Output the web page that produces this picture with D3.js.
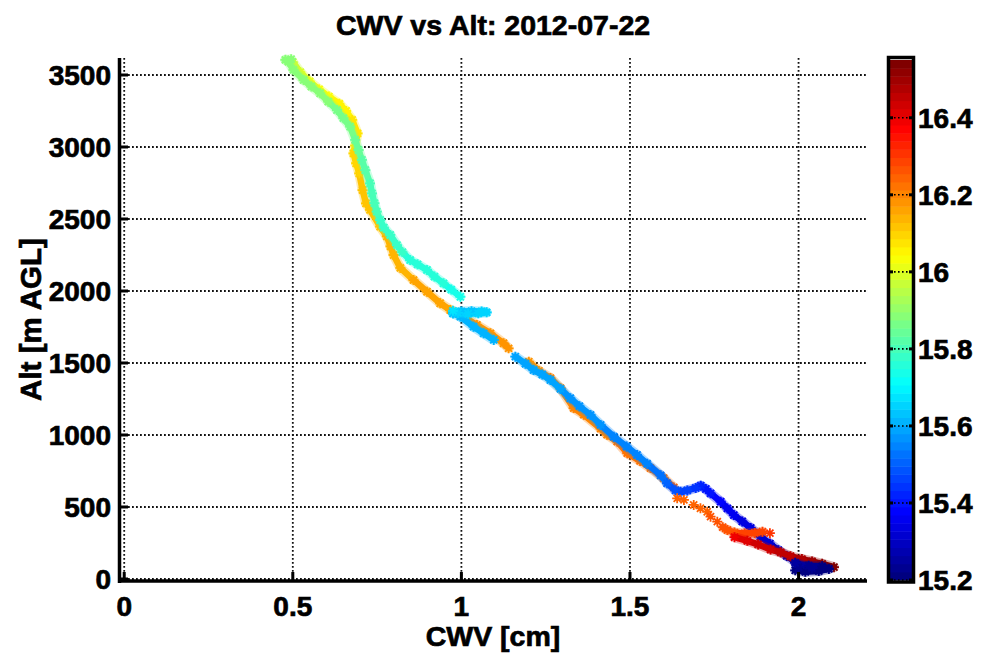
<!DOCTYPE html>
<html>
<head>
<meta charset="utf-8">
<script src="https://cdn.jsdelivr.net/npm/d3@7"></script>
<style>
body { margin: 0; background: #fff; }
svg text { font-family: "Liberation Sans", Arial, sans-serif; font-weight: bold; fill: #000;
           stroke: #000; stroke-width: 0.7px; }
</style>
</head>
<body>
<div id="plotDiv"></div>
<script>
//--------------------------------------------------------------------------------
// flight legs, one point is [cwv (cm), altitude (m AGL), time (hr)]
var groundHold = [[1.99,60,15.20],[2.02,50,15.205],[2.06,55,15.21],[2.09,70,15.215],
   [2.07,88,15.22],[2.03,92,15.225],[2.00,82,15.23],[1.995,100,15.235],[2.04,75,15.24],[1.99,112,15.245]];

var climbLow = [[1.99,120,15.26],[1.965,160,15.28],[1.94,200,15.30],[1.915,245,15.31],
   [1.887,294,15.32],[1.858,354,15.33],[1.833,400,15.34],[1.808,444,15.35],[1.789,490,15.36],
   [1.769,537,15.37],[1.739,595,15.39],[1.725,625,15.41],[1.710,648,15.42],[1.695,632,15.44],
   [1.670,615,15.46],[1.650,606,15.47],[1.635,615,15.48],[1.610,665,15.51],[1.591,720,15.53],
   [1.551,800,15.54],[1.521,861,15.545],[1.490,920,15.55],[1.452,988,15.555],[1.413,1070,15.56],
   [1.383,1139,15.565],[1.350,1200,15.57],[1.323,1255,15.575],[1.294,1320,15.58],[1.264,1382,15.585],
   [1.240,1420,15.59],[1.214,1451,15.59],[1.190,1495,15.595],[1.160,1544,15.60]];

var climbMid = [[1.096,1660,15.61],[1.066,1706,15.61],[1.036,1752,15.615],[0.997,1822,15.62],
   [0.975,1845,15.625]];

var levelLeg = [[0.975,1845,15.63],[1.00,1858,15.635],[1.03,1860,15.64],[1.06,1858,15.645],
   [1.075,1852,15.65],[1.05,1845,15.655],[1.02,1842,15.66],[0.99,1848,15.66],[0.975,1862,15.665]];

var climbHigh = [[0.997,1960,15.74],[0.970,2010,15.745],[0.947,2053,15.75],[0.920,2100,15.755],
   [0.898,2146,15.76],[0.870,2185,15.76],[0.848,2215,15.765],[0.825,2270,15.77],[0.809,2319,15.775],
   [0.789,2389,15.78],[0.770,2440,15.785],[0.759,2493,15.79],[0.749,2551,15.795],[0.742,2610,15.80],
   [0.735,2678,15.805],[0.729,2748,15.81],[0.715,2840,15.82],[0.705,2910,15.83],[0.695,2979,15.84],
   [0.685,3049,15.85],[0.670,3141,15.86],[0.650,3200,15.865],[0.631,3257,15.87],[0.605,3315,15.875],
   [0.581,3373,15.88],[0.555,3420,15.88],[0.532,3465,15.885],[0.502,3535,15.885],[0.487,3592,15.89],
   [0.478,3605,15.89],[0.495,3610,15.895]];

var descentHigh = [[0.500,3590,15.97],[0.522,3520,15.99],[0.550,3455,16.01],[0.578,3400,16.03],
   [0.607,3350,16.04],[0.638,3300,16.05],[0.658,3250,16.06],[0.676,3188,16.065],[0.692,3095,16.07],
   [0.685,3010,16.08],[0.680,2956,16.09],[0.688,2887,16.10],[0.697,2817,16.105],[0.707,2701,16.11],
   [0.717,2609,16.115],[0.729,2563,16.12],[0.759,2447,16.125],[0.779,2380,16.13],[0.790,2310,16.135],
   [0.799,2250,16.14],[0.819,2160,16.145],[0.858,2076,16.15],[0.898,1995,16.155],[0.937,1915,16.16],
   [0.967,1868,16.165],[1.000,1830,16.17],[1.046,1764,16.175],[1.086,1706,16.18],[1.125,1637,16.185],
   [1.140,1602,16.19]];

var descentMid = [[1.200,1509,16.19],[1.230,1445,16.19],[1.264,1395,16.195],[1.294,1325,16.20],
   [1.333,1187,16.20],[1.363,1141,16.205],[1.413,1045,16.21],[1.432,1002,16.21],[1.462,955,16.215],
   [1.492,874,16.22],[1.530,820,16.22],[1.561,770,16.225],[1.600,700,16.23],[1.630,636,16.235]];

var descentSparse = [[1.640,560,16.24],[1.660,549,16.24],[1.689,514,16.245],[1.709,491,16.25],
   [1.729,467,16.25],[1.739,433,16.255],[1.759,398,16.26],[1.915,318,16.30]];

var descentLow = [[1.775,360,16.265],[1.789,340,16.27],[1.810,322,16.275],[1.840,316,16.28],
   [1.870,320,16.285],[1.893,328,16.29]];

var descentFinal = [[1.810,290,16.40],[1.848,265,16.42],[1.880,240,16.43],[1.917,205,16.44],
   [1.947,185,16.45],[1.976,158,16.46],[2.010,138,16.48],[2.040,122,16.50],[2.070,105,16.52],
   [2.105,82,16.54]];

// order of drawing: upper descent sits under the climb bands, the low red legs on top,
// the ground hold blob last
var legs = [descentHigh, descentMid, climbLow, climbMid, levelLeg, climbHigh,
            descentSparse, descentLow, descentFinal, groundHold];
var markersOnly = [descentSparse];

var xTicks = [0, 0.5, 1, 1.5, 2];
var xTickLabels = ["0", "0.5", "1", "1.5", "2"];
var yTicks = [0, 500, 1000, 1500, 2000, 2500, 3000, 3500];
var cbarTicks = [15.2, 15.4, 15.6, 15.8, 16, 16.2, 16.4];
var cbarTickLabels = ["15.2", "15.4", "15.6", "15.8", "16", "16.2", "16.4"];
var timeRange = [15.2, 16.55];

var titleText = "CWV vs Alt: 2012-07-22";
var xLabelText = "CWV [cm]";
var yLabelText = "Alt [m AGL]";

//--------------------------------------------------------------------------------
var svgWidth = 988, svgHeight = 656;
var plotLeft = 120, plotRight = 866, plotTop = 58, plotBottom = 581;

var xScale = d3.scaleLinear().domain([-0.0125, 2.2]).range([plotLeft, plotRight]);
var yScale = d3.scaleLinear().domain([-14, 3618]).range([plotBottom, plotTop]);
var cScale = d3.scaleLinear().domain(timeRange).range([580, 60]);

// matlab style jet(64), quantized
function jet(hr) {
   var t = (hr - timeRange[0]) / (timeRange[1] - timeRange[0]);
   var i = Math.min(63, Math.max(0, Math.floor(t * 64)));
   var u = i / 63;
   var cl = function(v){ return Math.max(0, Math.min(1, v)); };
   return d3.rgb(255 * cl(1.5 - Math.abs(4*u - 3)),
                 255 * cl(1.5 - Math.abs(4*u - 2)),
                 255 * cl(1.5 - Math.abs(4*u - 1))).toString();
}

function asterisk(r) {
   var a = r * 0.7071;
   return "M" + (-r) + ",0H" + r + "M0," + (-r) + "V" + r +
          "M" + (-a) + "," + (-a) + "L" + a + "," + a +
          "M" + (-a) + "," + a + "L" + a + "," + (-a);
}

var svg = d3.select("#plotDiv").append("svg")
   .attr("width", svgWidth).attr("height", svgHeight);

//--------------------------------------------------------------------------------
// dotted grid
var grid = svg.append("g")
   .attr("stroke", "#111").attr("stroke-width", 1.8).attr("stroke-dasharray", "1.8,2.2");

grid.selectAll("line.gx").data(xTicks).enter().append("line")
   .attr("x1", function(d){ return xScale(d); }).attr("x2", function(d){ return xScale(d); })
   .attr("y1", plotTop).attr("y2", plotBottom);

grid.selectAll("line.gy").data(yTicks).enter().append("line")
   .attr("y1", function(d){ return yScale(d); }).attr("y2", function(d){ return yScale(d); })
   .attr("x1", plotLeft).attr("x2", plotRight);

//--------------------------------------------------------------------------------
// flight track: thick segments + asterisk markers
var plot = svg.append("g");

legs.forEach(function(leg) {
   var connected = markersOnly.indexOf(leg) < 0;
   if (connected) {
      var segs = d3.pairs(leg);
      plot.append("g").selectAll("line").data(segs).enter().append("line")
         .attr("x1", function(d){ return xScale(d[0][0]); })
         .attr("y1", function(d){ return yScale(d[0][1]); })
         .attr("x2", function(d){ return xScale(d[1][0]); })
         .attr("y2", function(d){ return yScale(d[1][1]); })
         .attr("stroke", function(d){ return jet((d[0][2] + d[1][2]) / 2); })
         .attr("stroke-opacity", 0.3)
         .attr("stroke-width", 10)
         .attr("stroke-linecap", "round");
      plot.append("g").selectAll("line").data(segs).enter().append("line")
         .attr("x1", function(d){ return xScale(d[0][0]); })
         .attr("y1", function(d){ return yScale(d[0][1]); })
         .attr("x2", function(d){ return xScale(d[1][0]); })
         .attr("y2", function(d){ return yScale(d[1][1]); })
         .attr("stroke", function(d){ return jet((d[0][2] + d[1][2]) / 2); })
         .attr("stroke-width", 6.5)
         .attr("stroke-linecap", "round");
   }
   plot.append("g").selectAll("path").data(leg).enter().append("path")
      .attr("transform", function(d){ return "translate(" + xScale(d[0]) + "," + yScale(d[1]) + ")"; })
      .attr("d", asterisk(5))
      .attr("fill", "none")
      .attr("stroke", function(d){ return jet(d[2]); })
      .attr("stroke-width", 1.8);
});

//--------------------------------------------------------------------------------
// axes (box off, thick lines, inward ticks)
var axes = svg.append("g").attr("stroke", "#000");

axes.append("line").attr("x1", plotLeft - 0.5).attr("x2", plotLeft - 0.5)
   .attr("y1", plotTop).attr("y2", plotBottom + 2).attr("stroke-width", 3.5);
axes.append("line").attr("x1", plotLeft - 2).attr("x2", plotRight + 1)
   .attr("y1", plotBottom).attr("y2", plotBottom).attr("stroke-width", 3.5);

axes.selectAll("line.tx").data(xTicks).enter().append("line")
   .attr("x1", function(d){ return xScale(d); }).attr("x2", function(d){ return xScale(d); })
   .attr("y1", plotBottom).attr("y2", plotBottom - 9).attr("stroke-width", 3);

axes.selectAll("line.ty").data(yTicks).enter().append("line")
   .attr("y1", function(d){ return yScale(d); }).attr("y2", function(d){ return yScale(d); })
   .attr("x1", plotLeft).attr("x2", plotLeft + 8).attr("stroke-width", 3);

svg.append("g").selectAll("text").data(xTicks).enter().append("text")
   .attr("x", function(d){ return xScale(d); })
   .attr("y", 616)
   .attr("text-anchor", "middle")
   .attr("font-size", 28)
   .text(function(d, i){ return xTickLabels[i]; });

svg.append("g").selectAll("text").data(yTicks).enter().append("text")
   .attr("x", 111)
   .attr("y", function(d){ return yScale(d) + 10; })
   .attr("text-anchor", "end")
   .attr("font-size", 28)
   .text(function(d){ return d; });

svg.append("text").attr("x", (plotLeft + plotRight) / 2).attr("y", 35)
   .attr("text-anchor", "middle").attr("font-size", 28.5).text(titleText);

svg.append("text").attr("x", (plotLeft + plotRight) / 2).attr("y", 646)
   .attr("text-anchor", "middle").attr("font-size", 28.5).text(xLabelText);

svg.append("text")
   .attr("transform", "translate(41," + ((plotTop + plotBottom) / 2) + ") rotate(-90)")
   .attr("text-anchor", "middle").attr("font-size", 29.5).text(yLabelText);

//--------------------------------------------------------------------------------
// colorbar
var cbX0 = 890, cbX1 = 912;
var levels = d3.range(64);
var step = (timeRange[1] - timeRange[0]) / 64;

svg.append("g").selectAll("rect").data(levels).enter().append("rect")
   .attr("x", cbX0).attr("width", cbX1 - cbX0)
   .attr("y", function(i){ return cScale(timeRange[0] + (i + 1) * step); })
   .attr("height", function(i){ return cScale(timeRange[0] + i * step) - cScale(timeRange[0] + (i + 1) * step) + 0.5; })
   .attr("fill", function(i){ return jet(timeRange[0] + (i + 0.5) * step); });

var cbTicks = svg.append("g").attr("stroke", "#000");
cbTicks.selectAll("line.cg").data(cbarTicks).enter().append("line")
   .attr("x1", cbX0).attr("x2", cbX1)
   .attr("y1", function(d){ return cScale(d); }).attr("y2", function(d){ return cScale(d); })
   .attr("stroke-width", 1.6).attr("stroke-dasharray", "1.6,2.4");
cbTicks.selectAll("line.cl").data(cbarTicks).enter().append("line")
   .attr("x1", cbX0).attr("x2", cbX0 + 3)
   .attr("y1", function(d){ return cScale(d); }).attr("y2", function(d){ return cScale(d); })
   .attr("stroke-width", 3);
cbTicks.selectAll("line.cr").data(cbarTicks).enter().append("line")
   .attr("x1", cbX1 - 3).attr("x2", cbX1)
   .attr("y1", function(d){ return cScale(d); }).attr("y2", function(d){ return cScale(d); })
   .attr("stroke-width", 3);

svg.append("rect")
   .attr("x", cbX0 - 1.5).attr("y", 57.5)
   .attr("width", cbX1 - cbX0 + 3).attr("height", 524.5)
   .attr("fill", "none").attr("stroke", "#000").attr("stroke-width", 3.5);

svg.append("g").selectAll("text").data(cbarTicks).enter().append("text")
   .attr("x", 918)
   .attr("y", function(d){ return cScale(d) + 10; })
   .attr("font-size", 28)
   .text(function(d, i){ return cbarTickLabels[i]; });
</script>
</body>
</html>
